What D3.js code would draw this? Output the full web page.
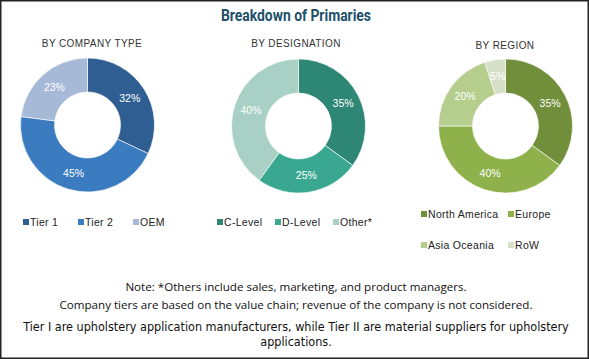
<!DOCTYPE html>
<html><head><meta charset="utf-8">
<script src="https://cdn.jsdelivr.net/npm/d3@7"></script>
<style>
html,body{margin:0;padding:0;background:#fff;}
svg{display:block;}
</style></head>
<body>
<svg id="chart" width="589" height="359"></svg>
<script>
// ---- data ----
const title = "Breakdown of Primaries";
const companyLabels = ["Tier 1", "Tier 2", "OEM"];
const companyValues = [32, 45, 23];
const designationLabels = ["C-Level", "D-Level", "Other*"];
const designationValues = [35, 25, 40];
const regionLabels = ["North America", "Europe", "Asia Oceania", "RoW"];
const regionValues = [35, 40, 20, 5];
const subtitles = ["BY COMPANY TYPE", "BY DESIGNATION", "BY REGION"];
const notes = [
  "Note: *Others include sales, marketing, and product managers.",
  "Company tiers are based on the value chain; revenue of the company is not considered."
];
const notes2 = [
  "Tier I are upholstery application manufacturers, while Tier II are material suppliers for upholstery",
  "applications."
];

const companyColors = ["#2f5f92", "#3b7bbf", "#a6b9d6"];
const designationColors = ["#2e8775", "#3aa890", "#a8d0c4"];
const regionColors = ["#718f3b", "#8fb14b", "#b5cd8d", "#d6e0c6"];

const svg = d3.select("#chart");
svg.append("rect").attr("x",0.75).attr("y",0.75).attr("width",587.5).attr("height",357.5)
  .attr("fill","#fff").attr("stroke","#222").attr("stroke-width",1.5);

svg.append("text").attr("x",296).attr("y",21).attr("text-anchor","middle")
  .attr("font-family","Roboto,'Liberation Sans',sans-serif")
  .attr("font-weight","bold").attr("font-size",16).attr("fill","#21506a")
  .attr("textLength",150).attr("lengthAdjust","spacingAndGlyphs").text(title);

const outerR = 67, innerR = 33;
const charts = [
  {cx: 87.5, cy: 125, labels: companyLabels, values: companyValues, colors: companyColors, sub: subtitles[0], subX: 92, subY: 47},
  {cx: 298.5, cy: 126, labels: designationLabels, values: designationValues, colors: designationColors, sub: subtitles[1], subX: 296, subY: 47},
  {cx: 505.5, cy: 126, labels: regionLabels, values: regionValues, colors: regionColors, sub: subtitles[2], subX: 505, subY: 49}
];

const pie = d3.pie().sort(null).value(d => d);
const arc = d3.arc().innerRadius(innerR).outerRadius(outerR);
const labelArc = d3.arc().innerRadius(50).outerRadius(50);

charts.forEach(c => {
  svg.append("text").attr("x", c.subX).attr("y", c.subY).attr("text-anchor","middle")
    .attr("font-family","'Liberation Sans',Arial,sans-serif").attr("font-size",10)
    .attr("letter-spacing","0.4").attr("fill","#333").text(c.sub);
  const color = d3.scaleOrdinal().domain(c.labels).range(c.colors);
  const g = svg.append("g").attr("transform",`translate(${c.cx},${c.cy})`);
  const arcs = pie(c.values);
  g.selectAll("path").data(arcs).join("path")
    .attr("d", arc).attr("fill", (d,i) => color(c.labels[i]))
    .attr("stroke","#fff").attr("stroke-width",0.6);
  g.selectAll("text").data(arcs).join("text")
    .attr("transform", d => `translate(${labelArc.centroid(d)})`)
    .attr("text-anchor","middle").attr("dy","0.35em")
    .attr("font-family","'Liberation Sans',Arial,sans-serif").attr("font-size",10.5)
    .attr("fill","#fff").text(d => d.data + "%");
});

// legends
const legendFont = "'Liberation Sans',Arial,sans-serif";
function legendItem(x, y, col, label){
  svg.append("rect").attr("x",x).attr("y",y-3).attr("width",6).attr("height",6).attr("fill",col);
  svg.append("text").attr("x",x+7).attr("y",y).attr("dy","0.35em")
    .attr("font-family",legendFont).attr("font-size",10.5).attr("letter-spacing","0.3")
    .attr("fill","#222").text(label);
}
const leg1X = [23, 78, 133];
companyLabels.forEach((l,i) => legendItem(leg1X[i], 222, companyColors[i], l));
const leg2X = [217, 275, 333];
designationLabels.forEach((l,i) => legendItem(leg2X[i], 222, designationColors[i], l));
const leg3 = [[421,214],[508,214],[421,245],[508,245]];
regionLabels.forEach((l,i) => legendItem(leg3[i][0], leg3[i][1], regionColors[i], l));

// notes
svg.selectAll("text.note").data(notes).join("text").attr("class","note")
  .attr("x",296).attr("y",(d,i) => 291 + i*18).attr("text-anchor","middle")
  .attr("font-family","'Open Sans',sans-serif").attr("font-size",11.6).attr("fill","#111").text(d => d);
svg.selectAll("text.note2").data(notes2).join("text").attr("class","note2")
  .attr("x",296).attr("y",(d,i) => 331 + i*15).attr("text-anchor","middle")
  .attr("font-family","'DejaVu Sans Condensed','Liberation Sans',sans-serif").attr("font-size",12.5).attr("fill","#111").text(d => d);
</script>
</body></html>
